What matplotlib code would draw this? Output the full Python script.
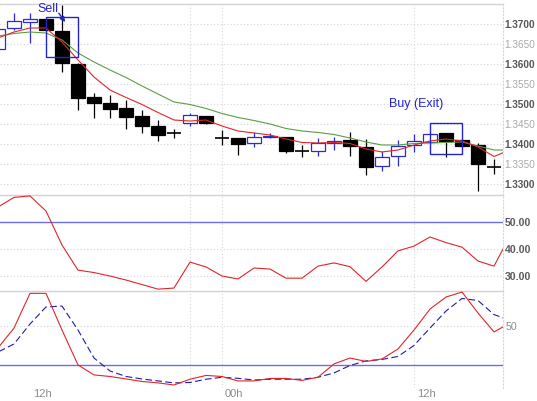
import matplotlib
matplotlib.use('Agg')
import matplotlib.pyplot as plt
from matplotlib.patches import Rectangle
import matplotlib.transforms as mtransforms

plt.rcParams['font.family'] = ['Liberation Sans', 'DejaVu Sans']

# ---------------- data ----------------
opens = [1.3638, 1.3690, 1.3705, 1.3713, 1.3683, 1.3600, 1.3518, 1.3503, 1.3490, 1.3470,
         1.3445, 1.3428, 1.3453, 1.3470, 1.3415, 1.3415, 1.3403, 1.3418, 1.3418, 1.3383,
         1.3383, 1.3403, 1.3410, 1.3393, 1.3345, 1.3370, 1.3398, 1.3405, 1.3428, 1.3410,
         1.3398, 1.3343]
highs = [1.3700, 1.3728, 1.3728, 1.3713, 1.3748, 1.3603, 1.3528, 1.3523, 1.3510, 1.3485,
         1.3460, 1.3438, 1.3478, 1.3470, 1.3435, 1.3415, 1.3430, 1.3428, 1.3418, 1.3398,
         1.3415, 1.3418, 1.3430, 1.3413, 1.3383, 1.3410, 1.3425, 1.3428, 1.3428, 1.3412,
         1.3403, 1.3363]
lows = [1.3630, 1.3685, 1.3653, 1.3683, 1.3580, 1.3485, 1.3465, 1.3465, 1.3438, 1.3428,
        1.3408, 1.3415, 1.3445, 1.3450, 1.3398, 1.3373, 1.3393, 1.3415, 1.3378, 1.3368,
        1.3370, 1.3385, 1.3370, 1.3323, 1.3333, 1.3345, 1.3380, 1.3403, 1.3368, 1.3393,
        1.3283, 1.3325]
closes = [1.3688, 1.3708, 1.3713, 1.3685, 1.3603, 1.3515, 1.3503, 1.3488, 1.3468, 1.3445,
          1.3423, 1.3428, 1.3473, 1.3453, 1.3415, 1.3400, 1.3418, 1.3421, 1.3383, 1.3383,
          1.3403, 1.3408, 1.3395, 1.3343, 1.3368, 1.3395, 1.3408, 1.3425, 1.3408, 1.3395,
          1.3350, 1.3343]

ma_fast = [1.3665, 1.3680, 1.3690, 1.3690, 1.3655, 1.3610, 1.35675, 1.3535, 1.35163, 1.34988,
           1.34788, 1.3460, 1.34575, 1.3460, 1.3445, 1.34325, 1.34275, 1.34225, 1.34125, 1.34038,
           1.34025, 1.34038, 1.34013, 1.33875, 1.3380, 1.3385, 1.33975, 1.34075, 1.34125, 1.34075,
           1.33925, 1.33688, 1.3385]
ma_slow = [1.3670, 1.36763, 1.3680, 1.36775, 1.3660, 1.36275, 1.3605, 1.3585, 1.35663, 1.3545,
           1.3525, 1.3505, 1.34988, 1.34888, 1.34763, 1.34663, 1.34588, 1.3450, 1.34388, 1.34325,
           1.34288, 1.34238, 1.3415, 1.3405, 1.33975, 1.33975, 1.34013, 1.34025, 1.34038, 1.3405,
           1.3395, 1.3385, 1.3385]

rsi = [55.7, 59.3, 59.85, 54.2, 41.5, 32.1, 31.2, 29.9, 28.4, 26.7,
       25.0, 25.4, 35.1, 33.3, 29.9, 28.8, 32.9, 32.5, 29.1, 29.1,
       33.6, 34.8, 33.4, 27.9, 33.3, 39.3, 41.1, 44.5, 42.4, 40.7,
       35.5, 33.6, 44.9]

stoch_k = [33.0, 48.2, 74.7, 74.7, 46.7, 20.0, 12.4, 11.2, 9.3, 7.4,
           6.3, 4.7, 9.1, 12.0, 11.2, 7.8, 7.8, 9.7, 9.7, 8.2,
           10.6, 20.8, 25.3, 22.7, 24.6, 32.2, 46.7, 62.7, 71.9, 75.7,
           59.7, 45.2, 52.1]
stoch_d = [29.9, 36.0, 51.3, 64.3, 65.0, 46.7, 25.3, 15.4, 11.2, 9.3,
           7.8, 6.3, 6.6, 9.1, 10.6, 9.8, 8.5, 9.1, 9.1, 9.1,
           10.6, 13.9, 19.6, 23.1, 24.2, 26.5, 34.9, 48.2, 61.2, 70.8,
           69.2, 58.5, 54.0]

price_ticks = [1.3300, 1.3350, 1.3400, 1.3450, 1.3500, 1.3550, 1.3600, 1.3650, 1.3700]
rsi_ticks = [30, 40, 50]
rsi_level = 50
stoch_ticks = [50]
stoch_level = 20
hour_ticks = [2, 14, 26]
hour_labels = ['12h', '00h', '12h']
grid_x = [12, 14, 26]

# signal zones: (first bar, last bar, top price, bottom price)
sell_zone = (3, 5, 1.37175, 1.36175)
buy_zone = (27, 29, 1.34525, 1.3375)
sell_label = (3.09, 1.3738)
buy_label = (26.16, 1.34988)

# ---------------- styling ----------------
BULL = '#2c2cc8'
BEAR = '#000000'
RED = '#e0262a'
GREEN = '#5a9e46'
LEVEL = '#6e6edc'
DBLUE = '#1c1ca8'
GRID = '#d6d6d6'
SEP = '#d2d2d2'
SIGNAL = '#2424c8'

W, H = 537, 401
fig = plt.figure(figsize=(W / 100, H / 100), dpi=100)
fig.patch.set_facecolor('white')


def rect(top, bottom, right=503):
    return [0, 1 - bottom / H, right / W, (bottom - top) / H]


ax1 = fig.add_axes(rect(4, 195))
ax2 = fig.add_axes(rect(195, 291))
ax3 = fig.add_axes(rect(291, 388))

xlim = (0.125, 31.5625)
n_lines = len(ma_fast)
xs_lines = list(range(n_lines))

for ax in (ax1, ax2, ax3):
    ax.set_xlim(*xlim)
    ax.set_facecolor('white')
    ax.spines['left'].set_visible(False)
    ax.spines['bottom'].set_visible(False)
    ax.spines['top'].set_color(SEP)
    ax.spines['top'].set_linewidth(1.0)
    ax.spines['right'].set_color(GRID)
    ax.spines['right'].set_linestyle((0, (1, 2)))
    ax.spines['right'].set_linewidth(0.8)
    ax.set_xticks([])
    ax.yaxis.tick_right()
    ax.tick_params(axis='y', length=0, pad=1.5, labelsize=7.6)
    ax.grid(axis='y', color=GRID, linestyle=(0, (1, 2)), linewidth=0.8)
    ax.set_axisbelow(True)
    for gx in grid_x:
        ax.axvline(gx, color=GRID, linestyle=(0, (1, 2)), linewidth=0.8, zorder=0)

# ---------------- price panel ----------------
ax1.set_ylim(1.32725, 1.3750)
ax1.set_yticks(price_ticks)
ax1.set_yticklabels([f'{p:.4f}' for p in price_ticks])
ax1.tick_params(axis='y', labelsize=7.2, pad=1)
for p, lab in zip(price_ticks, ax1.get_yticklabels()):
    if round(p * 10000) % 100 == 0:
        lab.set_fontweight('bold')
        lab.set_color('#555555')
    else:
        lab.set_color('#a8a8a8')

w = 0.84
for i, (o, h, l, c) in enumerate(zip(opens, highs, lows, closes)):
    if c > o:
        col = BULL
        ax1.vlines(i, l, h, color=col, linewidth=0.9, zorder=2)
        ax1.add_patch(Rectangle((i - w / 2, o), w, c - o, facecolor='white',
                                edgecolor=col, linewidth=0.9, zorder=3))
    elif c < o:
        col = BEAR
        ax1.vlines(i, l, h, color=col, linewidth=0.9, zorder=2)
        ax1.add_patch(Rectangle((i - w / 2, c), w, o - c, facecolor=col,
                                edgecolor=col, linewidth=0.9, zorder=3))
    else:
        ax1.vlines(i, l, h, color=BEAR, linewidth=0.9, zorder=2)
        ax1.hlines(o, i - w / 2, i + w / 2, color=BEAR, linewidth=1.2, zorder=3)

ax1.plot(xs_lines, ma_slow, color=GREEN, linewidth=0.8, zorder=4)
ax1.plot(xs_lines, ma_fast, color=RED, linewidth=0.8, zorder=4)

for (x0, x1, top, bot) in (sell_zone, buy_zone):
    ax1.add_patch(Rectangle((x0, bot), x1 - x0, top - bot, fill=False,
                            edgecolor=SIGNAL, linewidth=1.0, zorder=5))

ax1.text(sell_label[0], sell_label[1], 'Sell', color=SIGNAL, fontsize=9,
         ha='center', va='center', zorder=6)
ax1.annotate('', xy=(4.2, 1.3705), xytext=(3.8, 1.3727),
             arrowprops=dict(arrowstyle='-|>', color=SIGNAL, lw=1.0,
                             mutation_scale=7, shrinkA=0, shrinkB=0), zorder=6)
ax1.text(buy_label[0], buy_label[1], 'Buy (Exit)', color=SIGNAL, fontsize=9,
         ha='center', va='center', zorder=6)

# ---------------- RSI panel ----------------
ax2.set_ylim(24.3, 60.2)
ax2.set_yticks(rsi_ticks)
ax2.set_yticklabels([f'{v:.2f}' for v in rsi_ticks])
for lab in ax2.get_yticklabels():
    lab.set_fontweight('bold')
    lab.set_color('#5a5a5a')
ax2.axhline(rsi_level, color=LEVEL, linewidth=1.0, zorder=2)
ax2.plot(xs_lines, rsi, color=RED, linewidth=0.8, zorder=3)

# ---------------- Stochastic panel ----------------
ax3.set_ylim(2.4, 76.5)
ax3.set_yticks(stoch_ticks)
ax3.set_yticklabels([f'{v:d}' for v in stoch_ticks])
for lab in ax3.get_yticklabels():
    lab.set_color('#8c8c8c')
ax3.axhline(stoch_level, color=LEVEL, linewidth=1.0, zorder=2)
ax3.plot(xs_lines, stoch_d, color=DBLUE, linewidth=0.8, linestyle=(0, (6, 3)), zorder=3)
ax3.plot(xs_lines, stoch_k, color=RED, linewidth=0.8, zorder=4)

trans = mtransforms.blended_transform_factory(ax3.transData, ax3.transAxes)
trans = mtransforms.offset_copy(trans, fig=fig, x=3, y=-1, units='dots')
for hx, hl in zip(hour_ticks, hour_labels):
    ax3.text(hx, 0, hl, transform=trans, ha='left', va='top',
             fontsize=8, color='#8c8c8c', clip_on=False)

fig.savefig('out.png', dpi=100, facecolor='white')
